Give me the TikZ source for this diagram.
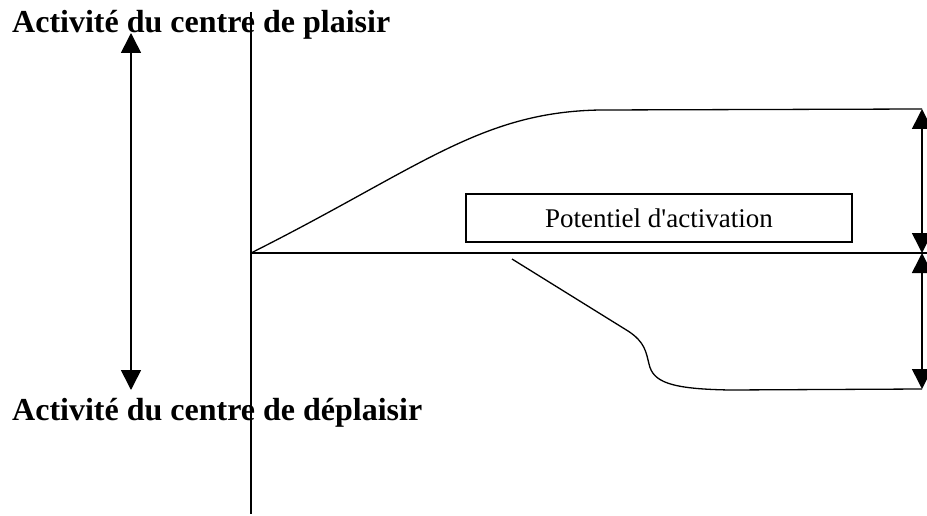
\documentclass[tikz,border=0pt]{standalone}
\usepackage{fontspec}
\setmainfont{Liberation Serif}
\usetikzlibrary{positioning, arrows.meta}

\begin{document}
\begin{tikzpicture}[
    x={(1pt,0)},
    y={(0,-1pt)},
    >={Triangle[length=20pt, width=20pt]},
    axis/.style={line width=1.5pt},
    curve/.style={line width=1.3pt},
    span arrow/.style={<->, line width=1.6pt},
    title/.style={anchor=base west, inner sep=0pt,
        font=\fontsize{32}{38}\selectfont\bfseries},
    label box/.style={draw, line width=1.2pt, inner sep=0pt,
        minimum width=386pt, minimum height=48pt,
        font=\fontsize{27}{32}\selectfont},
]
\useasboundingbox (0,0) rectangle (927,516);

% --- Texts ---
\node[title] (plaisir)   at (12,33)  {Activité du centre de plaisir};
\node[title] (deplaisir) at (12,420) {Activité du centre de déplaisir};
\node[label box] (potentiel) at (659,218) {Potentiel d\textquotesingle activation};

% --- Points ---
\coordinate (o)      at (251,253);
\coordinate (ytop)   at (251,12);
\coordinate (ybot)   at (251,514);
\coordinate (xend)   at (927,253);
\coordinate (ltop)   at (131,33);
\coordinate (lbot)   at (131,390);
\coordinate (rtop)   at (922,109);
\coordinate (rmid)   at (922,253);
\coordinate (rbot)   at (922,389);
\coordinate (dstart) at (512,259);

% --- Axes ---
\draw[axis] (ytop) -- (ybot);
\draw[axis] (o) -- (xend);

% --- Curves ---
\draw[curve] (o) .. controls (420,168) and (480,112) .. (600,110) -- (rtop);
\draw[curve] (dstart) -- (628,331)
    .. controls (645,342) and (646,352) .. (649,364)
    .. controls (653,382) and (670,389) .. (730,390) -- (rbot);

% --- Ranges ---
\draw[span arrow] (ltop) -- (lbot);
\draw[span arrow] (rtop) -- (rmid);
\draw[span arrow] (rmid) -- (rbot);

\end{tikzpicture}
\end{document}
